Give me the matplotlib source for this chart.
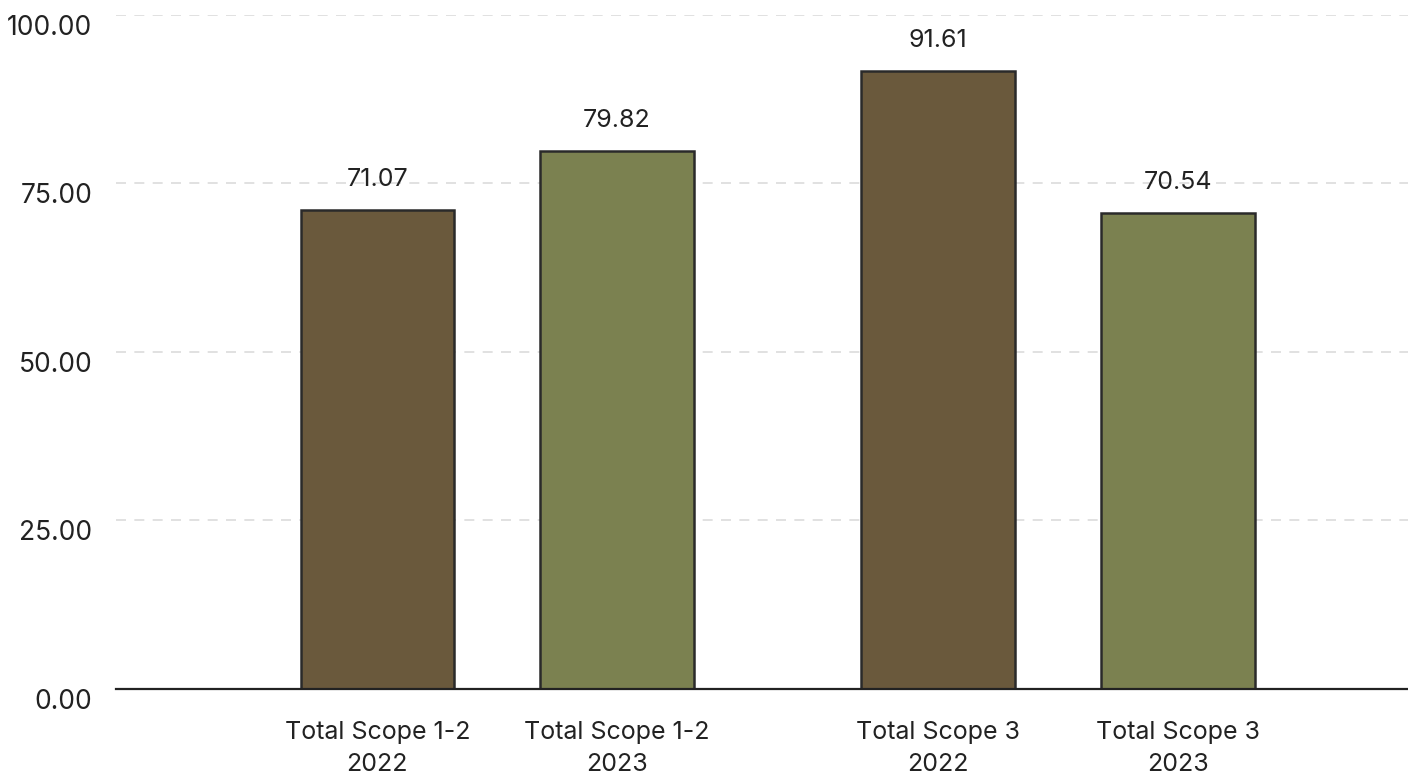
import matplotlib.pyplot as plt
import numpy as np

# -----------------------
# Data
# -----------------------
categories = [
    "Total Scope 1-2\n2022",
    "Total Scope 1-2\n2023",
    "Total Scope 3\n2022",
    "Total Scope 3\n2023",
]
values = [71.07, 79.82, 91.61, 70.54]
yticks = [0, 25, 50, 75, 100]

brown = "#6a593c"
green = "#7b8150"
bar_colors = [brown, green, brown, green]


def main():
    plt.rcParams["font.family"] = ["Inter", "DejaVu Sans"]

    fig = plt.figure(figsize=(14.08, 7.74), dpi=100)
    ax = fig.add_axes([0.0824, 0.11, 0.9176, 0.871])

    # two groups of two bars, wider gap between groups
    x = np.array([0.0, 1.0, 2.34, 3.34])

    bars = ax.bar(x, values, width=0.64, color=bar_colors,
                  edgecolor="#2a2a2a", linewidth=1.8, zorder=3)

    for b, v in zip(bars, values):
        ax.annotate(f"{v:.2f}", (b.get_x() + b.get_width() / 2, v),
                    xytext=(0, 22), textcoords="offset points",
                    ha="center", va="center", fontsize=18, color="#222222")

    ax.set_ylim(0, 100)
    ax.set_xlim(-1.09, 4.3)
    ax.set_yticks(yticks)
    ax.set_yticklabels([f"{t:.2f}" for t in yticks])
    ax.set_xticks(x)
    ax.set_xticklabels(categories, linespacing=1.5)

    ax.tick_params(axis="y", length=0, pad=17, labelsize=19, labelcolor="#222222")
    ax.tick_params(axis="x", length=0, pad=23, labelsize=18, labelcolor="#222222")
    for lbl in ax.get_yticklabels():
        lbl.set_verticalalignment("top")

    ax.yaxis.grid(True, color="#dcdcdc", linestyle=(0, (6, 5)), linewidth=1.2, zorder=0)
    for t in ax.yaxis.get_gridlines()[:1]:
        t.set_visible(False)

    for s in ["left", "right", "top"]:
        ax.spines[s].set_visible(False)
    ax.spines["bottom"].set_color("#222222")
    ax.spines["bottom"].set_linewidth(1.6)
    ax.spines["bottom"].set_zorder(4)

    fig.savefig("out.png", dpi=100)


if __name__ == "__main__":
    main()
